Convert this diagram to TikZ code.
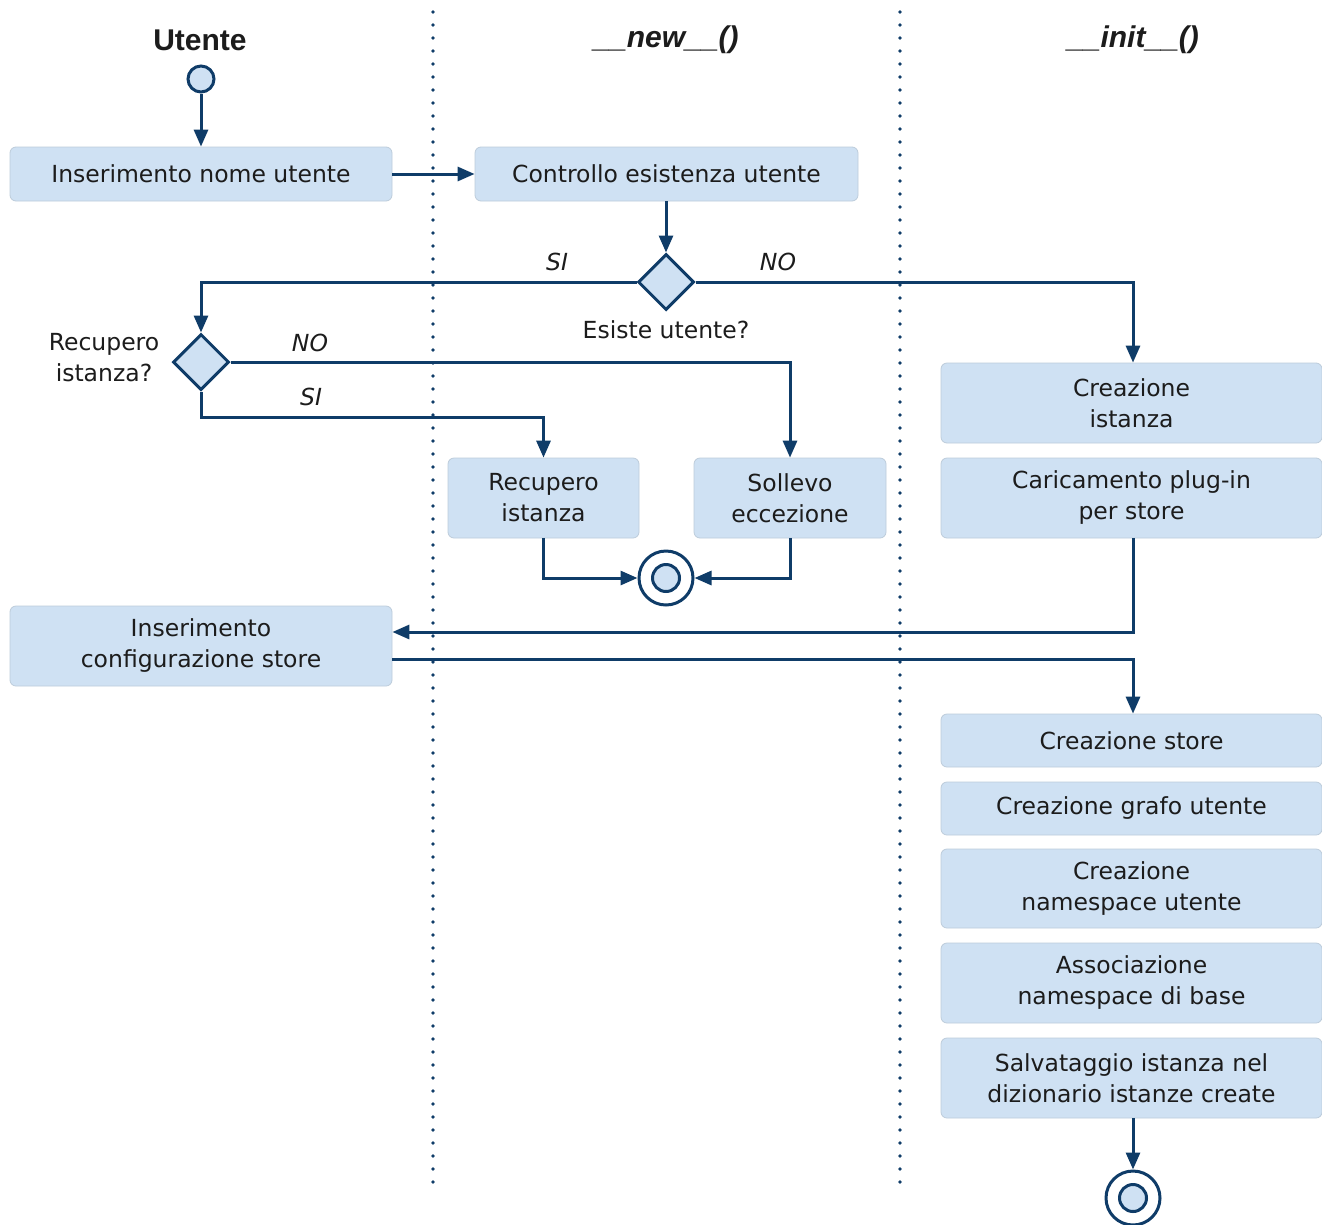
\documentclass[tikz,border=0pt]{standalone}
\usepackage{fontspec}
\setmainfont{DejaVu Sans}
\newfontfamily\hdrfont{Liberation Sans}
\usetikzlibrary{arrows.meta,shapes.geometric}
\definecolor{lane}{HTML}{0F3C68}
\definecolor{boxfill}{HTML}{CFE1F3}
\definecolor{boxedge}{HTML}{BDCCDB}
\definecolor{txt}{HTML}{1C1C1C}
\begin{document}
\begin{tikzpicture}[x=1pt,y=-1pt,
  every node/.style={text=txt},
  bodytext/.style={font=\fontsize{23.5}{31}\selectfont},
  act/.style={bodytext,rectangle,rounded corners=6pt,fill=boxfill,draw=boxedge,line width=0.8pt,
              align=center,inner sep=0pt,minimum width=#1},
  act/.default=381pt,
  choice/.style={diamond,aspect=1,minimum width=56pt,minimum height=56pt,inner sep=0pt,
                 fill=boxfill,draw=lane,line width=3pt},
  startnode/.style={circle,minimum size=26pt,inner sep=0pt,fill=boxfill,draw=lane,line width=3pt},
  endnode/.style={circle,minimum size=54pt,inner sep=0pt,fill=white,draw=lane,line width=3pt},
  flow/.style={draw=lane,line width=3pt,-{Triangle[length=17pt,width=14pt]}},
  guard/.style={font=\fontsize{23.5}{28}\selectfont\itshape},
  header/.style={font=\hdrfont\bfseries\fontsize{30}{34}\selectfont},
  swim/.style={draw=lane,line width=3.8pt,line cap=round,dash pattern=on 0pt off 13pt}
]
\useasboundingbox (0,0) rectangle (1322,1224);
\fill[white] (0,0) rectangle (1322,1224);

% swimlane separators
\draw[swim] (433,12) -- (433,1190);
\draw[swim] (900,12) -- (900,1190);

% lane headers
\node[header] (hU) at (200,40) {Utente};
\node[header] (hN) at (666,40) {\itshape\_\_new\_\_()};
\node[header] (hI) at (1133,40) {\itshape\_\_init\_\_()};

% user lane
\node[startnode] (start) at (201,79) {};
\node[act=382pt,minimum height=54pt] (nome) at (201,174) {Inserimento nome utente};
\node[act=382pt,minimum height=80pt] (conf) at (201,646) {Inserimento\\configurazione store};
\node[choice] (d2) at (201,362) {};
\node[bodytext,align=center] (d2l) at (104,358) {Recupero\\istanza?};

% __new__ lane
\node[act=383pt,minimum height=54pt] (ctrl) at (666.5,174) {Controllo esistenza utente};
\node[choice] (d1) at (666,282) {};
\node[bodytext] (d1l) at (666,330) {Esiste utente?};
\node[act=191pt,minimum height=80pt] (rec) at (543.5,498) {Recupero\\istanza};
\node[act=192pt,minimum height=80pt] (sol) at (790,498) {Sollevo\\eccezione};
\node[endnode] (end1) at (666,578) {};
\fill[boxfill,draw=lane,line width=3pt] (end1.center) circle (13.5);

% __init__ lane
\node[act,minimum height=80pt] (ist) at (1131.5,403) {Creazione\\istanza};
\node[act,minimum height=80pt] (plug) at (1131.5,498) {Caricamento plug-in\\per store};
\node[act,minimum height=53pt] (store) at (1131.5,740.5) {Creazione store};
\node[act,minimum height=53pt] (grafo) at (1131.5,808.5) {Creazione grafo utente};
\node[act,minimum height=79pt] (ns) at (1131.5,888.5) {Creazione\\namespace utente};
\node[act,minimum height=80pt] (assoc) at (1131.5,983) {Associazione\\namespace di base};
\node[act,minimum height=80pt] (salv) at (1131.5,1078) {Salvataggio istanza nel\\dizionario istanze create};
\node[endnode] (end2) at (1133,1198) {};
\fill[boxfill,draw=lane,line width=3pt] (end2.center) circle (13.5);

% bend points
\coordinate (k1) at (201,417);

% connectors
\draw[flow] (start) -- (nome);
\draw[flow] (nome.east) -- (ctrl.west);
\draw[flow] (ctrl.south -| d1.north) -- (d1.north);
\draw[flow] (d1.west) -| (d2.north);
\draw[flow] (d1.east) -| (ist.north -| end2.north);
\draw[flow] (d2.east) -| (sol.north);
\draw[flow] (d2.south) -- (k1) -| (rec.north);
\draw[flow] (rec.south) |- (end1.west);
\draw[flow] (sol.south) |- (end1.east);
\draw[flow] (plug.south -| end2.north) |- ([yshift=14pt]conf.east);
\draw[flow] ([yshift=-13pt]conf.east) -| (store.north -| end2.north);
\draw[flow] (salv.south -| end2.north) -- (end2.north);

% guard labels
\node[guard] (g1) at (557,262) {SI};
\node[guard] (g2) at (778,262) {NO};
\node[guard] (g3) at (310,343) {NO};
\node[guard] (g4) at (311,397) {SI};
\end{tikzpicture}
\end{document}
